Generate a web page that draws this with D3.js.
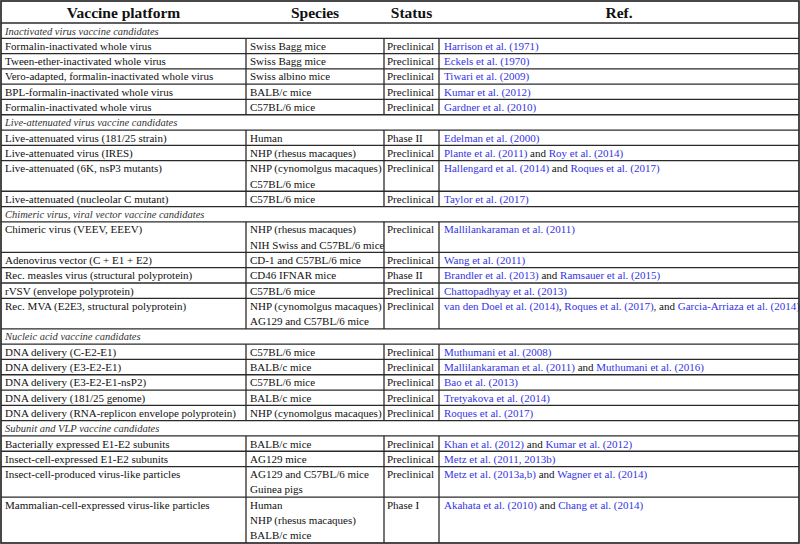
<!DOCTYPE html>
<html><head><meta charset="utf-8">
<script src="https://cdn.jsdelivr.net/npm/d3@7"></script>
<style>html,body{margin:0;padding:0;background:#fff;}svg{display:block;} svg text{font-family:"Liberation Serif", "DejaVu Serif", serif;}</style>
</head><body>
<svg id="chart" width="800" height="544"></svg>
<script>
// ---- data ----
const headers = ["Vaccine platform", "Species", "Status", "Ref."];
const sections = [
  "Inactivated virus vaccine candidates",
  "Live-attenuated virus vaccine candidates",
  "Chimeric virus, viral vector vaccine candidates",
  "Nucleic acid vaccine candidates",
  "Subunit and VLP vaccine candidates"
];
const rowSection = [0,0,0,0,0, 1,1,1,1, 2,2,2,2,2, 3,3,3,3,3, 4,4,4,4];
const platforms = [
  "Formalin-inactivated whole virus",
  "Tween-ether-inactivated whole virus",
  "Vero-adapted, formalin-inactivated whole virus",
  "BPL-formalin-inactivated whole virus",
  "Formalin-inactivated whole virus",
  "Live-attenuated virus (181/25 strain)",
  "Live-attenuated virus (IRES)",
  "Live-attenuated (6K, nsP3 mutants)",
  "Live-attenuated (nucleolar C mutant)",
  "Chimeric virus (VEEV, EEEV)",
  "Adenovirus vector (C + E1 + E2)",
  "Rec. measles virus (structural polyprotein)",
  "rVSV (envelope polyprotein)",
  "Rec. MVA (E2E3, structural polyprotein)",
  "DNA delivery (C-E2-E1)",
  "DNA delivery (E3-E2-E1)",
  "DNA delivery (E3-E2-E1-nsP2)",
  "DNA delivery (181/25 genome)",
  "DNA delivery (RNA-replicon envelope polyprotein)",
  "Bacterially expressed E1-E2 subunits",
  "Insect-cell-expressed E1-E2 subunits",
  "Insect-cell-produced virus-like particles",
  "Mammalian-cell-expressed virus-like particles"
];
const species = [
  ["Swiss Bagg mice"],
  ["Swiss Bagg mice"],
  ["Swiss albino mice"],
  ["BALB/c mice"],
  ["C57BL/6 mice"],
  ["Human"],
  ["NHP (rhesus macaques)"],
  ["NHP (cynomolgus macaques)", "C57BL/6 mice"],
  ["C57BL/6 mice"],
  ["NHP (rhesus macaques)", "NIH Swiss and C57BL/6 mice"],
  ["CD-1 and C57BL/6 mice"],
  ["CD46 IFNAR mice"],
  ["C57BL/6 mice"],
  ["NHP (cynomolgus macaques)", "AG129 and C57BL/6 mice"],
  ["C57BL/6 mice"],
  ["BALB/c mice"],
  ["C57BL/6 mice"],
  ["BALB/c mice"],
  ["NHP (cynomolgus macaques)"],
  ["BALB/c mice"],
  ["AG129 mice"],
  ["AG129 and C57BL/6 mice", "Guinea pigs"],
  ["Human", "NHP (rhesus macaques)", "BALB/c mice"]
];
const statuses = [
  "Preclinical","Preclinical","Preclinical","Preclinical","Preclinical",
  "Phase II","Preclinical","Preclinical","Preclinical",
  "Preclinical","Preclinical","Phase II","Preclinical","Preclinical",
  "Preclinical","Preclinical","Preclinical","Preclinical","Preclinical",
  "Preclinical","Preclinical","Preclinical","Phase I"
];
// segments separated by "|": even = citation (blue), odd = plain text
const refs = [
  "Harrison et al. (1971)",
  "Eckels et al. (1970)",
  "Tiwari et al. (2009)",
  "Kumar et al. (2012)",
  "Gardner et al. (2010)",
  "Edelman et al. (2000)",
  "Plante et al. (2011)| and |Roy et al. (2014)",
  "Hallengard et al. (2014)| and |Roques et al. (2017)",
  "Taylor et al. (2017)",
  "Mallilankaraman et al. (2011)",
  "Wang et al. (2011)",
  "Brandler et al. (2013)| and |Ramsauer et al. (2015)",
  "Chattopadhyay et al. (2013)",
  "van den Doel et al. (2014)|, |Roques et al. (2017)|, and |Garcia-Arriaza et al. (2014)",
  "Muthumani et al. (2008)",
  "Mallilankaraman et al. (2011)| and |Muthumani et al. (2016)",
  "Bao et al. (2013)",
  "Tretyakova et al. (2014)",
  "Roques et al. (2017)",
  "Khan et al. (2012)| and |Kumar et al. (2012)",
  "Metz et al. (2011, 2013b)",
  "Metz et al. (2013a,b)| and |Wagner et al. (2014)",
  "Akahata et al. (2010)| and |Chang et al. (2014)"
];

// ---- layout ----
const W = 800, H = 544;
const colEdges = [1, 246, 384, 439, 799];
const colPad = [4, 4, 3, 5];
const headerBottom = 23;
const ink = "#111", lineCol = "#2a2a2a", linkCol = "#3434e4";

// build line structure: sections + rows
const items = [];
let line = 0;
rowSection.forEach((s, i) => {
  if (i === 0 || rowSection[i-1] !== s) {
    items.push({type: "section", text: sections[s], start: line, n: 1});
    line += 1;
  }
  const n = Math.max(1, species[i].length);
  items.push({type: "row", i, start: line, n});
  line += n;
});
const totalLines = line;

const y = d3.scaleLinear().domain([0, totalLines]).range([headerBottom, H - 1]);
const colX = d3.scaleOrdinal().domain([0,1,2,3]).range(colEdges.slice(0,4));
const colMid = d3.scaleOrdinal().domain([0,1,2,3]).range(d3.range(4).map(c => (colEdges[c] + colEdges[c+1]) / 2));

const svg = d3.select("#chart");
svg.append("rect").attr("width", W).attr("height", H).attr("fill", "#fff");

// header
svg.append("g").selectAll("text").data(headers).join("text")
  .attr("x", (d, c) => colMid(c)).attr("y", 18.3)
  .attr("text-anchor", "middle")
  .attr("font-weight", "bold").attr("font-size", 15.5)
  .attr("fill", ink).text(d => d);

const baseOff = 11.6;
const pitch = y(1) - y(0);

// section titles
svg.append("g").selectAll("text").data(items.filter(d => d.type === "section")).join("text")
  .attr("x", 5).attr("y", d => y(d.start) + baseOff)
  .attr("font-style", "italic").attr("font-size", 10.5)
  .attr("fill", "#333").text(d => d.text);

const rows = items.filter(d => d.type === "row");
const tg = svg.append("g").attr("font-size", 11).attr("fill", ink);

// platform
tg.selectAll("text.plat").data(rows).join("text").attr("class", "plat")
  .attr("x", colX(0) + colPad[0]).attr("y", d => y(d.start) + baseOff)
  .text(d => platforms[d.i]);
// species (multi-line)
tg.selectAll("text.spec").data(rows).join("text").attr("class", "spec")
  .attr("x", colX(1) + colPad[1]).attr("y", d => y(d.start) + baseOff)
  .selectAll("tspan").data(d => species[d.i]).join("tspan")
  .attr("x", colX(1) + colPad[1]).attr("dy", (d, k) => k === 0 ? 0 : pitch)
  .text(d => d);
// status
tg.selectAll("text.stat").data(rows).join("text").attr("class", "stat")
  .attr("x", colX(2) + colPad[2]).attr("y", d => y(d.start) + baseOff)
  .text(d => statuses[d.i]);
// refs
tg.selectAll("text.ref").data(rows).join("text").attr("class", "ref")
  .attr("x", colX(3) + colPad[3]).attr("y", d => y(d.start) + baseOff)
  .selectAll("tspan").data(d => refs[d.i].split("|")).join("tspan")
  .attr("fill", (d, k) => k % 2 === 0 ? linkCol : ink)
  .text(d => d);

// grid lines
const lg = svg.append("g").attr("stroke", lineCol).attr("stroke-width", 1.3).attr("fill", "none");
const hy = [headerBottom].concat(items.map(d => y(d.start + d.n)));
lg.selectAll("line.h").data(hy.slice(0, -1)).join("line").attr("class", "h")
  .attr("x1", colEdges[0]).attr("x2", colEdges[4])
  .attr("y1", d => d).attr("y2", d => d);
const vsegs = [];
rows.forEach(r => [1,2,3].forEach(c => vsegs.push({x: colEdges[c], y1: y(r.start), y2: y(r.start + r.n)})));
lg.selectAll("line.v").data(vsegs).join("line").attr("class", "v")
  .attr("x1", d => d.x).attr("x2", d => d.x).attr("y1", d => d.y1).attr("y2", d => d.y2);
lg.append("rect").attr("x", colEdges[0]).attr("y", 1)
  .attr("width", colEdges[4] - colEdges[0]).attr("height", H - 2)
  .attr("stroke-width", 1.7);
</script>
</body></html>
